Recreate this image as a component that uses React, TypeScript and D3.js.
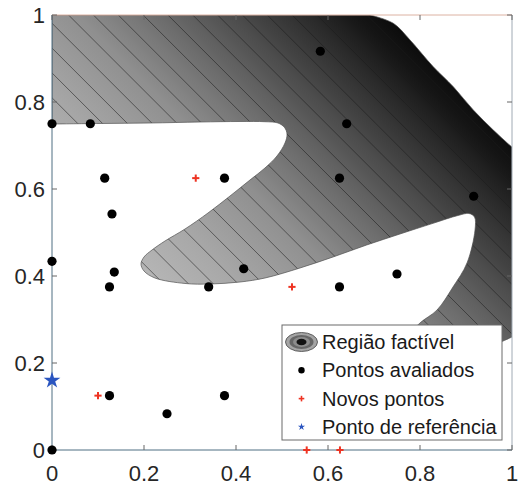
import React from "react";
import * as d3 from "d3";

const W = 520;
const H = 488;
const plot = { left: 52, right: 512, top: 15, bottom: 450 };

const xTicks = [0, 0.2, 0.4, 0.6, 0.8, 1];
const yTicks = [0, 0.2, 0.4, 0.6, 0.8, 1];

// Pontos avaliados
const evalX = [0, 0, 0, 0.0833, 0.1146, 0.1304, 0.1354, 0.125, 0.125, 0.25, 0.375, 0.375, 0.4167, 0.3406, 0.5833, 0.6406, 0.625, 0.625, 0.75, 0.9167];
const evalY = [0, 0.4338, 0.75, 0.75, 0.625, 0.5425, 0.409, 0.375, 0.125, 0.0833, 0.125, 0.625, 0.4167, 0.375, 0.9167, 0.75, 0.625, 0.375, 0.4046, 0.5833];

// Novos pontos
const newX = [0.3125, 0.5217, 0.1, 0.5537, 0.626];
const newY = [0.625, 0.375, 0.125, 0, 0];

// Ponto de referência
const refX = [0];
const refY = [0.16];

// Outer (top-right) limit of the feasible region
const outerEdge: [number, number][] = [
  [0.6913, 1.0], [0.742, 0.9809], [0.7783, 0.9425], [0.8289, 0.8811],
  [0.8724, 0.8352], [0.9159, 0.7816], [0.9593, 0.7356], [1.0, 0.696],
];

// Inner limit: from the left edge, around both tongues, out to the right edge
const innerEdge: [number, number][] = [
  [0, 0.7494], [0.1043, 0.7506], [0.213, 0.7517], [0.3217, 0.754], [0.4087, 0.7552],
  [0.463, 0.7547], [0.4913, 0.7517], [0.5054, 0.7414], [0.5109, 0.7264], [0.5065, 0.7057],
  [0.4891, 0.6759], [0.463, 0.6483], [0.4304, 0.6207], [0.387, 0.5839], [0.3391, 0.5448],
  [0.2891, 0.508], [0.2457, 0.4805], [0.2174, 0.4598], [0.2, 0.4437], [0.1935, 0.4276],
  [0.2, 0.4115], [0.2239, 0.3954], [0.2891, 0.3828], [0.3435, 0.3816], [0.4087, 0.3862],
  [0.463, 0.3954], [0.5391, 0.4184], [0.6109, 0.4437], [0.6841, 0.4713], [0.7565, 0.4966],
  [0.8283, 0.5211], [0.8826, 0.5391], [0.9065, 0.5437], [0.9185, 0.5356], [0.9196, 0.5057],
  [0.9022, 0.4299], [0.8717, 0.3747], [0.837, 0.3218], [0.8, 0.292], [0.7783, 0.2644],
  [0.7957, 0.2322], [0.8543, 0.2161], [0.9304, 0.2299], [1.0, 0.2598],
];

// Objective: f(x, y) = x + K * y
const K = 0.946;
const contourLevels = [0.55, 0.604, 0.658, 0.712, 0.766, 0.82, 0.874, 0.928, 0.982, 1.036, 1.09, 1.144, 1.198, 1.252, 1.306, 1.36, 1.414, 1.468, 1.522, 1.576, 1.63, 1.684, 1.738, 1.792];
const shadeF = [0.5, 0.75, 1.0, 1.2, 1.4, 1.5, 1.6, 1.72, 1.8];
const shadeC = ["#bcbcbc", "#a9a9a9", "#8f8f8f", "#686868", "#404040", "#2b2b2b", "#161616", "#050505", "#000000"];

const legendLabels = ["Região factível", "Pontos avaliados", "Novos pontos", "Ponto de referência"];

const FONT = "'Liberation Sans', Arial, Helvetica, sans-serif";

export default function App() {
  const x = d3.scaleLinear().domain([0, 1]).range([plot.left, plot.right]);
  const y = d3.scaleLinear().domain([0, 1]).range([plot.bottom, plot.top]);

  const curve = d3
    .line<[number, number]>()
    .x((d) => x(d[0]))
    .y((d) => y(d[1]))
    .curve(d3.curveCatmullRom.alpha(0.5));

  const innerRev = innerEdge.slice().reverse();
  const regionPath =
    `M${x(0)},${y(1)}` +
    (curve(outerEdge) as string).replace(/^M/, "L") +
    `L${x(1)},${y(innerRev[0][1])}` +
    (curve(innerRev) as string).replace(/^M/, "L") +
    "Z";

  // gradient direction in pixel space
  const dfdpx = 1 / (x(1) - x(0));
  const dfdpy = K / (y(1) - y(0));
  const gLen = Math.hypot(dfdpx, dfdpy);
  const dir = [dfdpx / gLen, dfdpy / gLen];
  const at = (v: number) => [x(0) + (dir[0] * v) / gLen, y(0) + (dir[1] * v) / gLen];
  const fMin = shadeF[0];
  const fMax = shadeF[shadeF.length - 1];
  const g0 = at(fMin);
  const g1 = at(fMax);

  const plus = (cx: number, cy: number, a: number, w: number, key: string) => (
    <g key={key} stroke="#ee3322" strokeWidth={w} strokeLinecap="butt">
      <line x1={cx - a} y1={cy} x2={cx + a} y2={cy} />
      <line x1={cx} y1={cy - a} x2={cx} y2={cy + a} />
    </g>
  );

  const star = (r: number) => d3.symbol(d3.symbolStar, (r * r) / 0.8908130915292852)() as string;

  const axisColor = "#4f6f82";
  const tickLen = 5;

  const legend = { x: 282, y: 325, w: 220, h: 115 };
  const rowY = (i: number) => 342 + i * 28.3;
  const iconX = 301.5;
  const textX = 322;

  return (
    <svg
      width={W}
      height={H}
      style={{ position: "absolute", left: 0, top: 0, background: "#fff" }}
      fontFamily={FONT}
    >
      <defs>
        <clipPath id="plotArea">
          <rect x={plot.left} y={plot.top} width={plot.right - plot.left} height={plot.bottom - plot.top} />
        </clipPath>
        <clipPath id="feasible">
          <path d={regionPath} />
        </clipPath>
        <linearGradient id="shade" gradientUnits="userSpaceOnUse" x1={g0[0]} y1={g0[1]} x2={g1[0]} y2={g1[1]}>
          {shadeF.map((f, i) => (
            <stop key={i} offset={(f - fMin) / (fMax - fMin)} stopColor={shadeC[i]} />
          ))}
        </linearGradient>
      </defs>

      <g clipPath="url(#plotArea)">
        <g clipPath="url(#feasible)">
          <rect x={plot.left} y={plot.top} width={plot.right - plot.left} height={plot.bottom - plot.top} fill="url(#shade)" />
          {contourLevels.map((v, i) => (
            <line
              key={i}
              x1={x(v + K * 0.3)}
              y1={y(-0.3)}
              x2={x(v - K * 1.3)}
              y2={y(1.3)}
              stroke="#1e1e1e"
              strokeWidth={0.65}
              strokeOpacity={0.85}
            />
          ))}
        </g>
        <path d={regionPath} fill="none" stroke="#505050" strokeWidth={0.7} />
      </g>

      {/* box and ticks */}
      <line x1={plot.left} y1={plot.top} x2={plot.right} y2={plot.top} stroke="#dcb2a2" strokeWidth={1} />
      <line x1={plot.right} y1={plot.top} x2={plot.right} y2={plot.bottom} stroke="#a0aab4" strokeWidth={1} />
      <line x1={plot.left} y1={plot.bottom} x2={plot.right} y2={plot.bottom} stroke={axisColor} strokeWidth={1} />
      <line x1={plot.left} y1={plot.top} x2={plot.left} y2={plot.bottom} stroke={axisColor} strokeWidth={1} />
      {xTicks.map((t) => (
        <g key={"xt" + t} stroke="#666" strokeWidth={1}>
          <line x1={x(t)} y1={plot.bottom} x2={x(t)} y2={plot.bottom - tickLen} />
          <line x1={x(t)} y1={plot.top} x2={x(t)} y2={plot.top + tickLen} />
        </g>
      ))}
      {yTicks.map((t) => (
        <g key={"yt" + t} stroke="#666" strokeWidth={1}>
          <line x1={plot.left} y1={y(t)} x2={plot.left + tickLen} y2={y(t)} />
          <line x1={plot.right} y1={y(t)} x2={plot.right - tickLen} y2={y(t)} />
        </g>
      ))}
      {xTicks.map((t) => (
        <text key={"xl" + t} x={x(t)} y={481} textAnchor="middle" fontSize={22} fill="#262626">
          {d3.format("~g")(t)}
        </text>
      ))}
      {yTicks.map((t) => (
        <text key={"yl" + t} x={45} y={y(t) + 8} textAnchor="end" fontSize={22} fill="#262626">
          {d3.format("~g")(t)}
        </text>
      ))}

      {/* points */}
      {evalX.map((px, i) => (
        <circle key={"e" + i} cx={x(px)} cy={y(evalY[i])} r={4.6} fill="#000" />
      ))}
      {newX.map((px, i) => plus(x(px), y(newY[i]), 3.6, 2, "n" + i))}
      {refX.map((px, i) => (
        <path key={"r" + i} d={star(8.8)} transform={`translate(${x(px)},${y(refY[i])})`} fill="#2a55c0" />
      ))}

      {/* legend */}
      <rect x={legend.x} y={legend.y} width={legend.w} height={legend.h} fill="#fff" stroke="#6a6a6a" strokeWidth={1} />
      <g>
        <ellipse cx={iconX} cy={rowY(0)} rx={16} ry={9.5} fill="#a4a4a4" stroke="#444" strokeWidth={0.8} />
        <ellipse cx={iconX} cy={rowY(0)} rx={12} ry={7} fill="#666" />
        <ellipse cx={iconX} cy={rowY(0)} rx={8.5} ry={5} fill="#8c8c8c" />
        <ellipse cx={iconX} cy={rowY(0)} rx={5} ry={3.2} fill="#111" />
      </g>
      <circle cx={iconX} cy={rowY(1)} r={3.2} fill="#000" />
      {plus(iconX, rowY(2), 2.8, 1.6, "lp")}
      <path d={star(3.8)} transform={`translate(${iconX},${rowY(3)})`} fill="#2a55c0" />
      {legendLabels.map((s, i) => (
        <text key={s} x={textX} y={rowY(i) + 7} fontSize={20} fill="#1a1a1a">
          {s}
        </text>
      ))}
    </svg>
  );
}
